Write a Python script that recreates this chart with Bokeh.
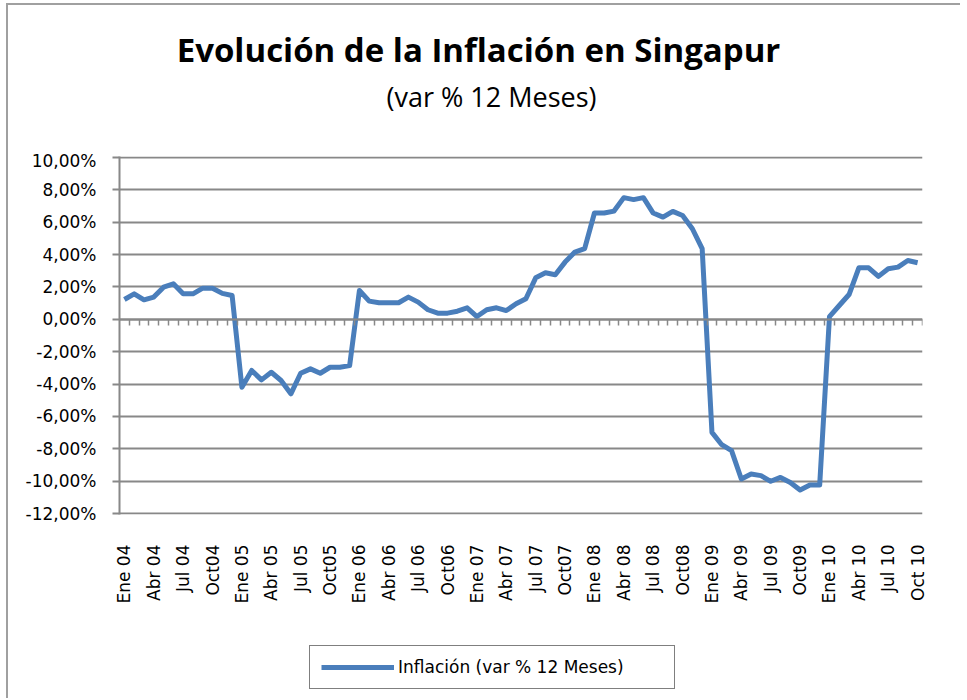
import math
from bokeh.plotting import figure
from bokeh.layouts import column
from bokeh.models import (FixedTicker, LinearAxis, Label, Legend, LegendItem, Range1d,
                          ColumnDataSource, CustomJSTickFormatter, InlineStyleSheet)
from bokeh.embed import file_html
from bokeh.resources import INLINE

# ---------------- data ----------------
month_names = ["Ene", "Feb", "Mar", "Abr", "May", "Jun", "Jul", "Ago", "Sep", "Oct", "Nov", "Dic"]
years = ["04", "05", "06", "07", "08", "09", "10"]
categories = [f"{m} {y}" for y in years for m in month_names][:82]   # Ene 04 .. Oct 10

inflacion = [
    1.22, 1.57, 1.20, 1.37, 1.98, 2.19, 1.57, 1.57, 1.92, 1.92, 1.60, 1.47,
    -4.19, -3.16, -3.74, -3.27, -3.78, -4.60, -3.33, -3.06, -3.33, -2.96, -2.96, -2.86,
    1.78, 1.12, 1.02, 1.02, 1.02, 1.37, 1.06, 0.59, 0.38, 0.38, 0.50, 0.71,
    0.17, 0.59, 0.71, 0.54, 0.96, 1.27, 2.56, 2.87, 2.75, 3.53, 4.15, 4.36,
    6.56, 6.56, 6.68, 7.51, 7.39, 7.51, 6.56, 6.31, 6.66, 6.41, 5.59, 4.36,
    -6.98, -7.74, -8.11, -9.86, -9.55, -9.65, -10.00, -9.76, -10.07, -10.54, -10.23, -10.23,
    0.17, 0.85, 1.53, 3.18, 3.18, 2.65, 3.12, 3.22, 3.63, 3.49,
]

x_tick_labels = ["Ene 04", "Abr 04", "Jul 04", "Oct04", "Ene 05", "Abr 05", "Jul 05", "Oct05",
                 "Ene 06", "Abr 06", "Jul 06", "Oct06", "Ene 07", "Abr 07", "Jul 07", "Oct07",
                 "Ene 08", "Abr 08", "Jul 08", "Oct08", "Ene 09", "Abr 09", "Jul 09", "Oct09",
                 "Ene 10", "Abr 10", "Jul 10", "Oct 10"]
y_ticks = [-12, -10, -8, -6, -4, -2, 0, 2, 4, 6, 8, 10]
y_tick_labels = ["-12,00%", "-10,00%", "-8,00%", "-6,00%", "-4,00%", "-2,00%",
                 "0,00%", "2,00%", "4,00%", "6,00%", "8,00%", "10,00%"]

title_text = "Evolución de la Inflación en Singapur"
subtitle_text = "(var % 12 Meses)"
legend_text = "Inflación (var % 12 Meses)"

# ---------------- common ----------------
n = len(categories)
idx = list(range(n))
src = ColumnDataSource(dict(i=idx, v=inflacion, cat=categories))

GRID = "#888888"
LINE = "#4a7ebb"
AXFONT = "DejaVu Sans"
W = 960
H_TOP, H, H2 = 150, 470, 78      # title strip, chart, legend strip
FRAME_LEFT, FRAME_RIGHT = 119, 922


def frame_css(top_border):
    top = "border-top: 2px solid #a0a0a0; top: 3px;" if top_border else "top: 0px;"
    return [InlineStyleSheet(css=(
        ":host::after { content: ''; position: absolute; left: 6px; right: 0px; bottom: 0px; "
        + top + " border-left: 2px solid #a0a0a0; pointer-events: none; }"))]


def strip(height):
    f = figure(width=W, height=height, output_backend="svg", toolbar_location=None,
               x_range=Range1d(0, 1), y_range=Range1d(1000, 1001),
               x_axis_location=None, y_axis_location=None,
               min_border_left=FRAME_LEFT, min_border_right=W - FRAME_RIGHT,
               min_border_top=0, min_border_bottom=0)
    f.outline_line_color = None
    f.grid.visible = False
    f.border_fill_color = "white"
    f.background_fill_color = "white"
    return f


# ---------------- title strip ----------------
pt = strip(H_TOP)
pt.add_layout(Label(x=478 - FRAME_LEFT, y=H_TOP - 49, x_units="screen", y_units="screen",
                    text=title_text, text_align="center", text_baseline="alphabetic",
                    text_font="Open Sans", text_font_style="bold", text_font_size="33px",
                    text_color="black"))
pt.add_layout(Label(x=491 - FRAME_LEFT, y=H_TOP - 96, x_units="screen", y_units="screen",
                    text=subtitle_text, text_align="center", text_baseline="alphabetic",
                    text_font="Open Sans", text_font_size="27px", text_color="black"))
pt.stylesheets = frame_css(True)

# ---------------- main chart ----------------
p = figure(width=W, height=H, output_backend="svg", toolbar_location=None,
           x_range=Range1d(-0.5, n - 0.5), y_range=Range1d(-12.05, 10.05),
           min_border_left=FRAME_LEFT, min_border_right=W - FRAME_RIGHT,
           min_border_top=156 - H_TOP, min_border_bottom=H - (514 - H_TOP))
p.outline_line_color = None
p.background_fill_color = "white"
p.border_fill_color = "white"

p.yaxis.ticker = FixedTicker(ticks=y_ticks)
p.yaxis.major_label_overrides = {t: l for t, l in zip(y_ticks, y_tick_labels)}
p.yaxis.axis_line_color = GRID
p.yaxis.axis_line_width = 2
p.yaxis.major_tick_line_color = GRID
p.yaxis.major_tick_line_width = 2
p.yaxis.major_tick_out = 7
p.yaxis.major_tick_in = 0
p.yaxis.minor_tick_line_color = None
p.yaxis.major_label_standoff = 16
p.yaxis.major_label_text_font = AXFONT
p.yaxis.major_label_text_font_size = "17px"
p.yaxis.major_label_text_color = "black"

p.ygrid.ticker = FixedTicker(ticks=y_ticks)
p.ygrid.grid_line_color = GRID
p.ygrid.grid_line_width = 2
p.xgrid.visible = False

label_pos = [i for i in idx if i % 3 == 0]
xa = p.xaxis[0]
xa.ticker = FixedTicker(ticks=label_pos)
xa.major_label_overrides = {i: l for i, l in zip(label_pos, x_tick_labels)}
xa.major_label_orientation = math.pi / 2
xa.axis_line_color = None
xa.major_tick_line_color = None
xa.minor_tick_line_color = None
xa.major_label_standoff = 24
xa.major_label_text_font = AXFONT
xa.major_label_text_font_size = "17px"
xa.major_label_text_color = "black"

# category axis crossing at zero (tick marks at category boundaries)
boundaries = [k - 0.5 for k in range(1, n + 1)]
zero_axis = LinearAxis(fixed_location=0, ticker=FixedTicker(ticks=boundaries),
                       formatter=CustomJSTickFormatter(code="return ''"),
                       axis_line_color=GRID, axis_line_width=2,
                       major_tick_line_color=GRID, major_tick_line_width=1.5,
                       major_tick_out=6, major_tick_in=0,
                       minor_tick_line_color=None, major_label_standoff=0)
p.add_layout(zero_axis, "below")

r = p.line(x="i", y="v", source=src, line_color=LINE, line_width=5, line_join="round")
p.stylesheets = frame_css(False)

# ---------------- legend strip ----------------
p2 = strip(H2)
# same series drawn outside this strip's visible range; it only feeds the legend glyph
proxy = p2.line(x="i", y="v", source=src, line_color=LINE, line_width=5)
legend = Legend(items=[LegendItem(label=legend_text, renderers=[proxy])],
                location=(309 - FRAME_LEFT, H2 - 69), padding=11, glyph_width=73,
                glyph_height=20, label_standoff=4, label_width=265, label_height=20,
                border_line_color="black", border_line_width=1.5,
                background_fill_color="white", label_text_font=AXFONT,
                label_text_font_size="17px", label_text_color="black", margin=0)
p2.add_layout(legend, "center")
p2.stylesheets = frame_css(False)

layout = column(pt, p, p2, spacing=0)
open("out.html", "w").write(file_html(layout, INLINE))
